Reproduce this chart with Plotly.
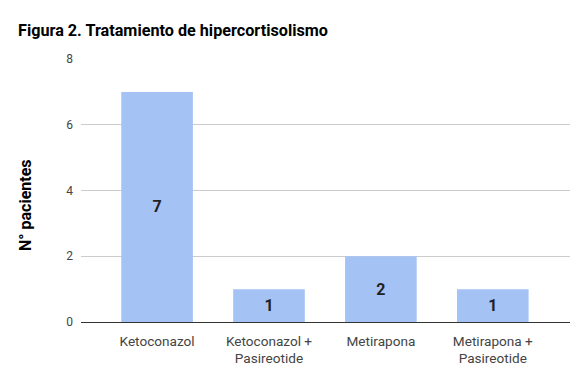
import plotly.graph_objects as go

categories = ["Ketoconazol", "Ketoconazol +<br>Pasireotide", "Metirapona", "Metirapona +<br>Pasireotide"]
values = [7, 1, 2, 1]
y_ticks = [0, 2, 4, 6, 8]

W, H = 586, 383
L, T, R, B = 73, 51, 24, 69  # compensates 8px page body margin
pw, ph = W - L - R, H - T - B

fig = go.Figure(go.Bar(
    x=list(range(len(categories))), y=values,
    marker=dict(color="#a4c2f4", line=dict(width=0)),
    width=0.64,
    text=[str(v) for v in values], textposition="inside", insidetextanchor="middle",
    textfont=dict(family="Roboto", size=16, color="#222222", weight="bold"),
    textangle=0,
))

fig.update_layout(
    width=W, height=H,
    margin=dict(l=L, r=R, t=T, b=B, autoexpand=False),
    paper_bgcolor="white", plot_bgcolor="white",
    font=dict(family="Roboto", size=13, color="#444444"),
    title=dict(text="<b>Figura 2. Tratamiento de hipercortisolismo</b>", x=10 / W, xanchor="left",
               y=1 - 22 / H, yanchor="middle",
               font=dict(family="Roboto", size=16.2, color="#000000")),
    showlegend=False,
    annotations=[dict(
        text="<b>N° pacientes</b>", textangle=-90, xref="paper", yref="paper",
        x=(17 - L) / pw, y=(H - B - 197) / ph, xanchor="center", yanchor="middle",
        showarrow=False, font=dict(family="Roboto", size=16, color="#000000"),
    )],
)
fig.update_xaxes(
    range=[-0.68, 3.69], tickvals=list(range(len(categories))), ticktext=categories,
    showgrid=False, showline=False, zeroline=False, ticks="", ticklabelstandoff=9,
    tickfont=dict(size=13.6, color="#444444"),
)
fig.update_yaxes(
    range=[0, 8], tickvals=y_ticks, showgrid=True, gridcolor="#cccccc", gridwidth=1,
    zeroline=True, zerolinecolor="#333333", zerolinewidth=1,
    ticks="", ticklabelstandoff=7, tickfont=dict(size=12, color="#444444"),
)
fig.write_html("out.html")
